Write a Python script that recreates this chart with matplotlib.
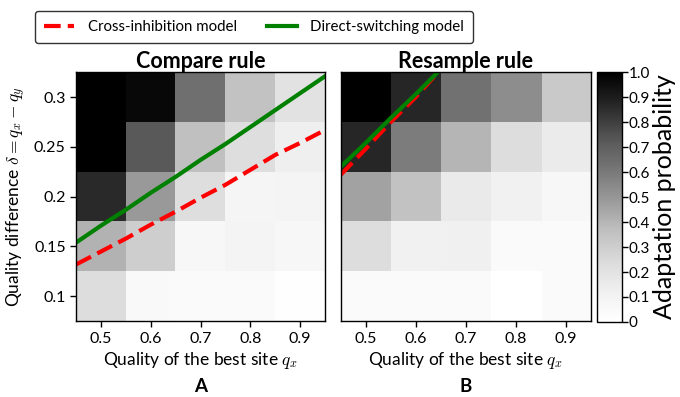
import numpy as np
import matplotlib
matplotlib.use('Agg')
from matplotlib import pyplot as plt

plt.rcParams['font.family'] = ['Lato', 'DejaVu Sans']
plt.rcParams['mathtext.fontset'] = 'cm'

qx = [0.5, 0.6, 0.7, 0.8, 0.9]
delta = [0.1, 0.15, 0.2, 0.25, 0.3]

# rows: delta 0.1 .. 0.3, columns: qx 0.5 .. 0.9
compare = [
    [0.23, 0.05, 0.04, 0.04, 0.01],
    [0.41, 0.30, 0.07, 0.09, 0.07],
    [0.86, 0.49, 0.22, 0.08, 0.09],
    [1.00, 0.72, 0.36, 0.22, 0.13],
    [1.00, 0.97, 0.64, 0.35, 0.20],
]
resample = [
    [0.04, 0.04, 0.04, 0.00, 0.04],
    [0.23, 0.11, 0.12, 0.04, 0.04],
    [0.46, 0.35, 0.16, 0.11, 0.07],
    [0.87, 0.59, 0.40, 0.23, 0.15],
    [1.00, 0.87, 0.63, 0.53, 0.32],
]

# boundary curves
line_x = [0.45, 0.5, 0.55, 0.6, 0.65, 0.7, 0.75, 0.8, 0.85, 0.9, 0.95]
ci_compare = [0.132, 0.145, 0.158, 0.172, 0.185, 0.199, 0.212, 0.227, 0.242, 0.254, 0.267]
ds_compare = [0.154, 0.171, 0.187, 0.204, 0.220, 0.237, 0.253, 0.270, 0.287, 0.304, 0.321]
line_x_r = [0.45, 0.5, 0.55, 0.6, 0.65, 0.7]
ci_resample = [0.222, 0.248, 0.275, 0.300, 0.328, 0.355]
ds_resample = [0.230, 0.254, 0.279, 0.303, 0.328, 0.352]

fig = plt.figure(figsize=(6.8, 3.97), dpi=100)
ax1 = fig.add_axes([0.112, 0.191, 0.366, 0.627])
ax2 = fig.add_axes([0.501, 0.191, 0.368, 0.627])
cax = fig.add_axes([0.878, 0.189, 0.036, 0.629])

ext = [0.45, 0.95, 0.075, 0.325]
for ax, data, title, letter, ci, ds, lx in [
        (ax1, compare, 'Compare rule', 'A', ci_compare, ds_compare, line_x),
        (ax2, resample, 'Resample rule', 'B', ci_resample, ds_resample, line_x_r)]:
    im = ax.imshow(np.array(data), origin='lower', extent=ext, cmap='Greys',
                   vmin=0, vmax=1, aspect='auto', interpolation='nearest')
    l1, = ax.plot(lx, ci, color='red', ls=(0, (4, 1.7)), lw=3, label='Cross-inhibition model')
    l2, = ax.plot(lx, ds, color='green', lw=3, label='Direct-switching model')
    ax.set_xlim(0.45, 0.95)
    ax.set_ylim(0.075, 0.325)
    ax.set_xticks(qx)
    ax.set_xticklabels(['0.5', '0.6', '0.7', '0.8', '0.9'])
    ax.set_title(title, fontsize=15.5, fontweight='bold', pad=3)
    ax.set_xlabel('Quality of the best site $q_x$', fontsize=12.5, labelpad=3)
    ax.text(0.5, -0.262, letter, transform=ax.transAxes, ha='center', va='center',
            fontsize=13.5, fontweight='bold')
    ax.tick_params(labelsize=11.5, width=1, length=4)
    for s in ax.spines.values():
        s.set_linewidth(1)

ax1.set_yticks(delta)
ax1.set_yticklabels(['0.1', '0.15', '0.2', '0.25', '0.3'])
ax1.set_ylabel(r'Quality difference $\delta = q_x - q_y$', fontsize=12.5, labelpad=4)
ax2.set_yticks([])

cb = fig.colorbar(im, cax=cax)
ticks = [0, 0.1, 0.2, 0.3, 0.4, 0.5, 0.6, 0.7, 0.8, 0.9, 1.0]
cb.set_ticks(ticks)
cb.set_ticklabels(['0', '0.1', '0.2', '0.3', '0.4', '0.5', '0.6', '0.7', '0.8', '0.9', '1.0'])
cb.ax.tick_params(labelsize=11, width=1, length=4, pad=1)
cb.set_label('Adaptation probability', fontsize=18, labelpad=2)
cb.outline.set_linewidth(1)

fig.legend(handles=[l1, l2], loc='center', bbox_to_anchor=(0.374, 0.932), ncol=2,
           fontsize=10.8, frameon=True, edgecolor='black', fancybox=True,
           handlelength=2.0, handletextpad=0.9, columnspacing=2.0, borderpad=0.6)

fig.savefig('out.png', dpi=100)
